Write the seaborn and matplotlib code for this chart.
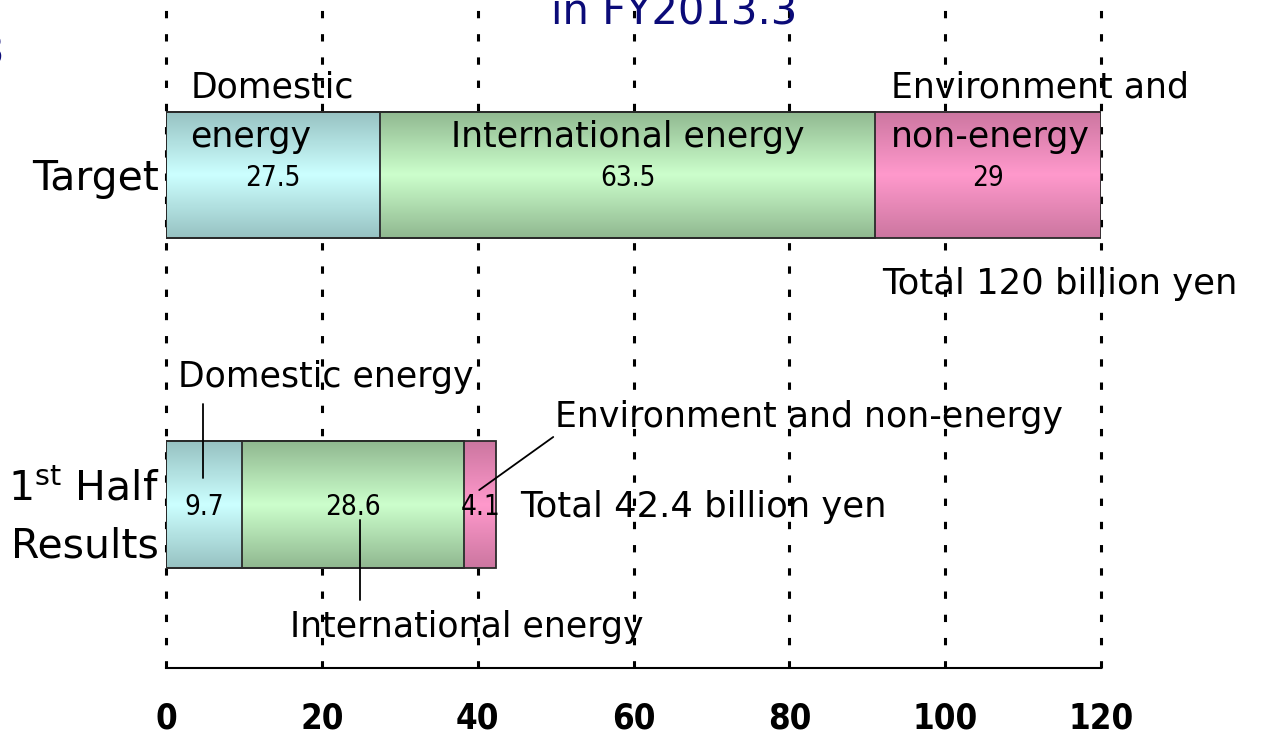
import numpy as np
import pandas as pd
import matplotlib
matplotlib.use("Agg")
import matplotlib.pyplot as plt
from matplotlib.colors import LinearSegmentedColormap
import seaborn as sns

# data (billion yen)
categories = ["Target", "1st Half Results"]
category_labels = ["Target", "1$^{\\mathrm{st}}$ Half\nResults"]
domestic = [27.5, 9.7]
international = [63.5, 28.6]
environment = [29.0, 4.1]
totals = [120, 42.4]
ticks = [0, 20, 40, 60, 80, 100, 120]

# (edge, centre) colours of each segment's vertical gradient
seg_colors = [("#97c2c2", "#ccffff"), ("#90b890", "#ccffcc"), ("#cc76a0", "#ff99cc")]
navy = "#0b0b78"
narrow = ["Liberation Sans Narrow", "DejaVu Sans"]

sns.set_theme(style="white")
plt.rcParams["font.family"] = ["DejaVu Sans"]
plt.rcParams["text.color"] = "black"

fig = plt.figure(figsize=(12.7, 7.41), dpi=100)
ax = fig.add_axes([166 / 1270, 73 / 741, 935 / 1270, 668 / 741])

vals = np.array([domestic, international, environment])
cum = vals.cumsum(axis=0)
lefts = np.vstack([np.zeros(len(categories)), cum[:-1]])
bar_w = 0.385

# stacked bars: draw the running totals from longest to shortest
for k in reversed(range(len(vals))):
    n0 = len(ax.patches)
    df = pd.DataFrame({"cat": categories, "val": cum[k]})
    sns.barplot(data=df, x="val", y="cat", orient="h", width=bar_w,
                color=seg_colors[k][1], edgecolor="#2a2a2a", linewidth=1.3,
                zorder=3, ax=ax)
    cmap = LinearSegmentedColormap.from_list(
        f"g{k}", [seg_colors[k][0], seg_colors[k][1], seg_colors[k][0]])
    grad = np.linspace(0, 1, 200).reshape(-1, 1)
    for i, p in enumerate(ax.patches[n0:]):
        p.set_facecolor("none")
        y0, h = p.get_y(), p.get_height()
        ax.imshow(grad, cmap=cmap, aspect="auto", interpolation="bicubic",
                  extent=[lefts[k][i], cum[k][i], y0 + h, y0], zorder=2)

ax.set_xlim(0, 120)
ax.set_ylim(1.496, -0.531)
ax.set_xlabel("")
ax.set_ylabel("")

# value labels in the segment centres
for k in range(len(vals)):
    for i in range(len(categories)):
        ax.text(lefts[k][i] + vals[k][i] / 2, i + 0.008, f"{vals[k][i]:g}",
                ha="center", va="center", fontsize=20, family=narrow,
                stretch="condensed", color="black", zorder=5)

# grid and axes styling
ax.set_axisbelow("line")
ax.set_xticks(ticks)
ax.grid(axis="x", color="black", linewidth=2.2, linestyle=(0, (2.4, 5.2)))
for gl in ax.get_xgridlines():
    gl.set_clip_on(False)
ax.grid(axis="y", visible=False)
for s in ["top", "left", "right"]:
    ax.spines[s].set_visible(False)
ax.spines["bottom"].set_color("black")
ax.spines["bottom"].set_linewidth(1.5)
ax.set_xticklabels([str(t) for t in ticks], fontsize=25, fontweight="bold",
                   family=narrow, stretch="condensed")
ax.tick_params(axis="x", length=0, pad=24, colors="black")
ax.set_yticks(range(len(categories)))
ax.set_yticklabels(category_labels, fontsize=29.5, linespacing=1.55)
ax.tick_params(axis="y", length=0, pad=5, colors="black")

# segment names
fs = 25
ax.text(3.1, -0.267, "Domestic", fontsize=fs, va="center", zorder=1)
ax.text(3.1, -0.115, "energy", fontsize=fs, va="center", zorder=5)
ax.text(27.5 + 63.5 / 2, -0.115, "International energy", fontsize=fs,
        ha="center", va="center", zorder=5)
ax.text(93.0, -0.267, "Environment and", fontsize=fs, va="center", zorder=1)
ax.text(93.0, -0.115, "non-energy", fontsize=fs, va="center", zorder=5)
ax.text(91.9, 0.331, f"Total {totals[0]:g} billion yen", fontsize=25.5,
        va="center", zorder=1)

ax.text(1.5, 0.613, "Domestic energy", fontsize=fs, va="center", zorder=1)
ax.text(49.9, 0.734, "Environment and non-energy", fontsize=fs, va="center", zorder=1)
ax.text(45.4, 1.008, f"Total {totals[1]:g} billion yen", fontsize=25.5,
        va="center", zorder=1)
ax.text(15.9, 1.372, "International energy", fontsize=fs, va="center", zorder=1)

# leader lines for the small segments
ax.plot([4.75, 4.75], [0.695, 0.92], color="black", lw=1.3, zorder=6)
ax.plot([49.7, 40.2], [0.795, 0.956], color="black", lw=1.3, zorder=6)
ax.plot([24.9, 24.9], [1.047, 1.29], color="black", lw=1.3, zorder=6)

# title (cut off at the top of the slide, as in the source)
fig.text(0.531, 1 - 23 / 741, "in FY2013.3", ha="center", va="baseline",
         fontsize=30, color=navy)
fig.text(4 / 1270, 1 - 65 / 741, "3", ha="right", va="baseline",
         fontsize=30, color=navy)

fig.savefig("out.png", dpi=100, facecolor="white")
